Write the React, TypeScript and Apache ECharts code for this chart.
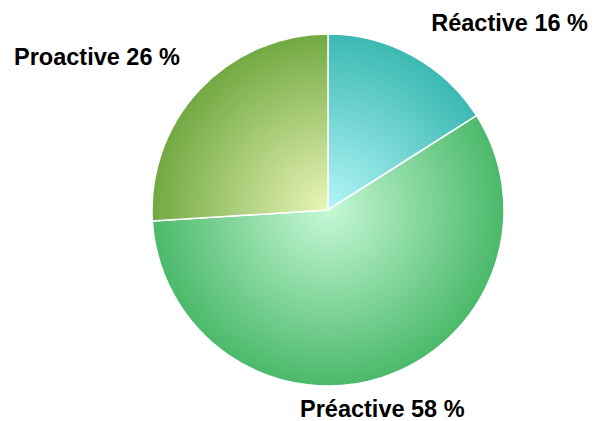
import React, { useEffect, useRef } from "react";
import * as echarts from "echarts";

const categories = ["Réactive", "Préactive", "Proactive"];
const values = [16, 58, 26];
const innerColors = ["#b4f6f8", "#c6f8d6", "#eaf6b8"];
const outerColors = ["#3bb9b3", "#4bb96a", "#72a942"];

const CX = 328;
const CY = 210;
const R = 176;

const labelPos = [
  { x: 588, y: 23, align: "right" },
  { x: 300, y: 409, align: "left" },
  { x: 14, y: 57, align: "left" },
];

export default function App() {
  const ref = useRef<HTMLDivElement>(null);
  useEffect(() => {
    const chart = echarts.init(ref.current!, null, { renderer: "svg" });
    chart.setOption({
      animation: false,
      series: [
        {
          type: "pie",
          center: [CX, CY],
          radius: R,
          startAngle: 90,
          clockwise: true,
          avoidLabelOverlap: false,
          data: categories.map((name, i) => ({
            name,
            value: values[i],
            itemStyle: {
              color: {
                type: "radial",
                x: CX,
                y: CY,
                r: R,
                global: true,
                colorStops: [
                  { offset: 0, color: innerColors[i] },
                  { offset: 1, color: outerColors[i] },
                ],
              },
            },
          })),
          itemStyle: { borderColor: "#ffffff", borderWidth: 1.5 },
          label: {
            show: true,
            position: "outside",
            formatter: "{b} {c} %",
            fontFamily: "Liberation Sans, Arial, sans-serif",
            fontWeight: "bold",
            fontSize: 23.5,
            color: "#000000",
            overflow: "none",
            width: 300,
          },
          labelLine: { show: false },
          labelLayout: (params: any) => {
            const p = labelPos[params.dataIndex];
            return { x: p.x, y: p.y, align: p.align, verticalAlign: "middle" };
          },
          emphasis: { disabled: true },
        },
      ],
    });
    return () => chart.dispose();
  }, []);
  return (
    <div
      ref={ref}
      style={{ position: "fixed", left: 0, top: 0, width: 600, height: 421, background: "#ffffff" }}
    />
  );
}
